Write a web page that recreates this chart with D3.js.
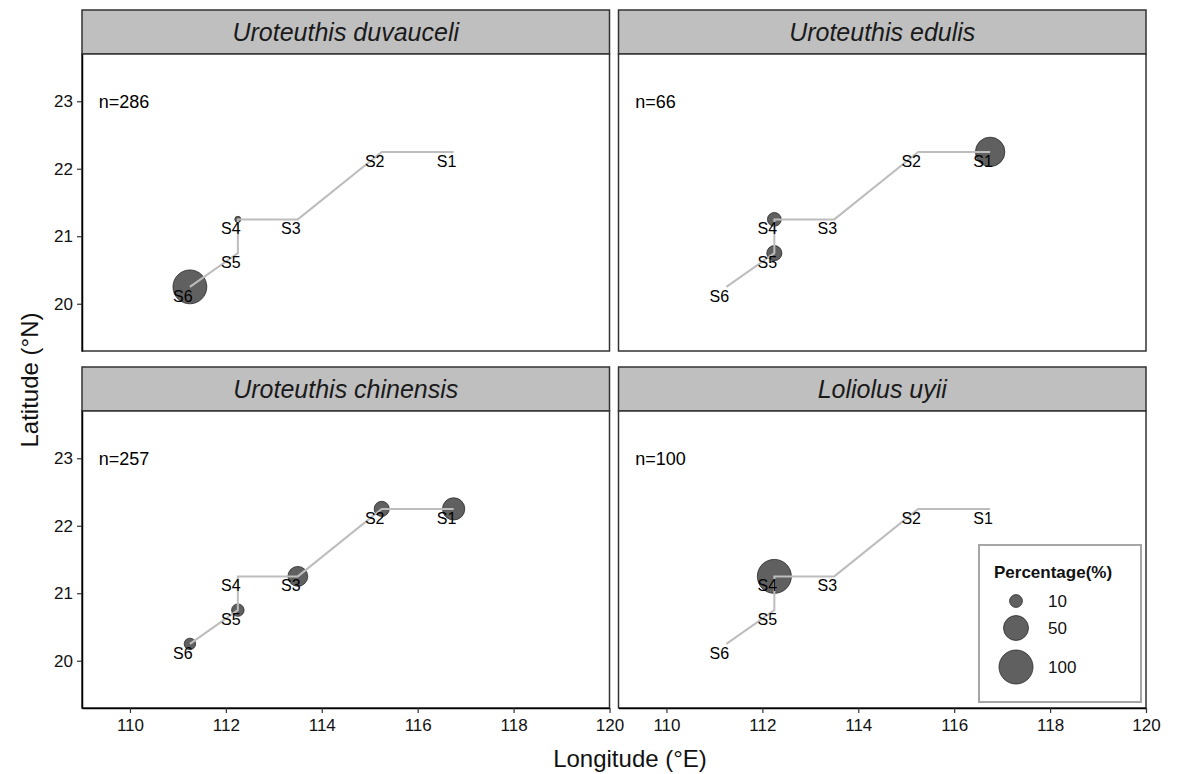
<!DOCTYPE html>
<html>
<head>
<meta charset="utf-8">
<script src="https://cdn.jsdelivr.net/npm/d3@7"></script>
<style>
  body { margin: 0; background: #fff; }
  svg text { font-family: "Liberation Sans", Arial, sans-serif; }
</style>
</head>
<body>
<div id="chart"></div>
<script>
// Stations along the survey track
const stations = ["S1", "S2", "S3", "S4", "S5", "S6"];
const lon = [116.75, 115.25, 113.5, 112.25, 112.25, 111.25];
const lat = [22.25, 22.25, 21.25, 21.25, 20.75, 20.25];

// One panel per species
const species = ["Uroteuthis duvauceli", "Uroteuthis edulis", "Uroteuthis chinensis", "Loliolus uyii"];
const sampleN = [286, 66, 257, 100];

// Percentage of catch at each station (S1..S6), 0 = none
const pctDuvauceli = [0, 0, 0, 1.0, 0, 99.0];
const pctEdulis = [72.7, 0, 0, 12.1, 15.2, 0];
const pctChinensis = [38.5, 15.2, 29.6, 0, 9.3, 7.4];
const pctUyii = [0, 0, 0, 100, 0, 0];
const pctAll = [pctDuvauceli, pctEdulis, pctChinensis, pctUyii];

const legendBreaks = [10, 50, 100];
const xTicks = [110, 112, 114, 116, 118, 120];
const yTicks = [20, 21, 22, 23];

// Layout
const width = 1178, height = 774;
const margin = { top: 10, right: 32, bottom: 66, left: 82 };
const gapX = 9, gapY = 16, stripH = 44;
const pw = (width - margin.left - margin.right - gapX) / 2;
const rowH = (height - margin.top - margin.bottom - gapY) / 2;
const ph = rowH - stripH;

const svg = d3.select("#chart")
    .append("svg")
    .attr("width", width)
    .attr("height", height);

// Scales
const x = d3.scaleLinear().domain([109, 120]).range([0, pw]);
const y = d3.scaleLinear().domain([19.3, 23.7]).range([ph, 0]);
const r = d3.scaleSqrt().domain([0, 100]).range([1.5, 17]);

const idx = d3.range(stations.length);
const line = d3.line()
    .x(i => x(lon[i]))
    .y(i => y(lat[i]));

species.forEach((name, p) => {
    const col = p % 2, row = Math.floor(p / 2);
    const gx = margin.left + col * (pw + gapX);
    const gy = margin.top + row * (rowH + gapY);

    // strip
    const strip = svg.append("g").attr("transform", `translate(${gx}, ${gy})`);
    strip.append("rect")
        .attr("width", pw)
        .attr("height", stripH)
        .attr("fill", "#bfbfbf")
        .attr("stroke", "#333")
        .attr("stroke-width", 1.5);
    strip.append("text")
        .attr("x", pw / 2)
        .attr("y", stripH / 2)
        .attr("dy", "0.35em")
        .attr("text-anchor", "middle")
        .style("font-size", "25px")
        .style("font-style", "italic")
        .attr("fill", "#1a1a1a")
        .text(name);

    const g = svg.append("g").attr("transform", `translate(${gx}, ${gy + stripH})`);

    g.append("rect")
        .attr("width", pw)
        .attr("height", ph)
        .attr("fill", "#fff");

    // bubbles
    const pct = pctAll[p];
    g.selectAll("circle.bubble")
        .data(idx.filter(i => pct[i] > 0))
        .enter()
        .append("circle")
        .attr("class", "bubble")
        .attr("cx", i => x(lon[i]))
        .attr("cy", i => y(lat[i]))
        .attr("r", i => r(pct[i]))
        .attr("fill", "#333")
        .attr("fill-opacity", 0.78)
        .attr("stroke", "#2a2a2a")
        .attr("stroke-width", 0.8);

    // track line
    g.append("path")
        .datum(idx)
        .attr("d", line)
        .attr("fill", "none")
        .attr("stroke", "#bdbdbd")
        .attr("stroke-width", 2);

    // station labels
    g.selectAll("text.stn")
        .data(idx)
        .enter()
        .append("text")
        .attr("class", "stn")
        .attr("x", i => x(lon[i]) - 7)
        .attr("y", i => y(lat[i]) + 15)
        .attr("text-anchor", "middle")
        .style("font-size", "16px")
        .attr("fill", "#000")
        .text(i => stations[i]);

    // sample size
    g.append("text")
        .attr("x", x(109.35))
        .attr("y", y(23))
        .attr("dy", "0.35em")
        .style("font-size", "18px")
        .attr("fill", "#000")
        .text("n=" + sampleN[p]);

    // border
    g.append("rect")
        .attr("width", pw)
        .attr("height", ph)
        .attr("fill", "none")
        .attr("stroke", "#333")
        .attr("stroke-width", 1.5);

    // axes
    if (col === 0) {
        const ay = g.append("g")
            .call(d3.axisLeft(y).tickValues(yTicks).tickFormat(d3.format("d"))
                .tickSize(5).tickSizeOuter(0).tickPadding(4));
        ay.select(".domain").attr("stroke", "#000").attr("stroke-width", 1.5);
        ay.selectAll(".tick line").attr("stroke", "#333").attr("stroke-width", 1.2);
        ay.selectAll(".tick text").style("font-size", "17px").attr("fill", "#111");
    }
    if (row === 1) {
        const ax = g.append("g")
            .attr("transform", `translate(0, ${ph})`)
            .call(d3.axisBottom(x).tickValues(xTicks).tickFormat(d3.format("d"))
                .tickSize(5).tickSizeOuter(0).tickPadding(6));
        ax.select(".domain").attr("stroke", "#000").attr("stroke-width", 1.5);
        ax.selectAll(".tick line").attr("stroke", "#333").attr("stroke-width", 1.2);
        ax.selectAll(".tick text").style("font-size", "17px").attr("fill", "#111");
    }

    // legend in the last panel
    if (p === species.length - 1) {
        const lw = 162, lh = 157;
        const lg = g.append("g")
            .attr("class", "legend")
            .attr("transform", `translate(${pw - 5 - lw}, ${ph - 6 - lh})`);
        lg.append("rect")
            .attr("width", lw)
            .attr("height", lh)
            .attr("fill", "#fff")
            .attr("stroke", "#a6a6a6")
            .attr("stroke-width", 2);
        lg.append("text")
            .attr("x", 15)
            .attr("y", 33)
            .style("font-size", "17px")
            .style("font-weight", "bold")
            .attr("fill", "#111")
            .text("Percentage(%)");
        const keyY = [56, 83, 122];
        lg.selectAll("circle")
            .data(legendBreaks)
            .enter()
            .append("circle")
            .attr("cx", 37)
            .attr("cy", (d, i) => keyY[i])
            .attr("r", d => r(d))
            .attr("fill", "#333")
            .attr("fill-opacity", 0.78)
            .attr("stroke", "#2a2a2a")
            .attr("stroke-width", 0.8);
        lg.selectAll("text.key")
            .data(legendBreaks)
            .enter()
            .append("text")
            .attr("class", "key")
            .attr("x", 69)
            .attr("y", (d, i) => keyY[i])
            .attr("dy", "0.35em")
            .style("font-size", "17px")
            .attr("fill", "#111")
            .text(d => d);
    }
});

// Axis titles
svg.append("text")
    .attr("x", 630)
    .attr("y", height - 7)
    .attr("text-anchor", "middle")
    .style("font-size", "24px")
    .attr("fill", "#111")
    .text("Longitude (°E)");

svg.append("text")
    .attr("transform", `translate(38, 380) rotate(-90)`)
    .attr("text-anchor", "middle")
    .style("font-size", "24px")
    .attr("fill", "#111")
    .text("Latitude (°N)");
</script>
</body>
</html>
